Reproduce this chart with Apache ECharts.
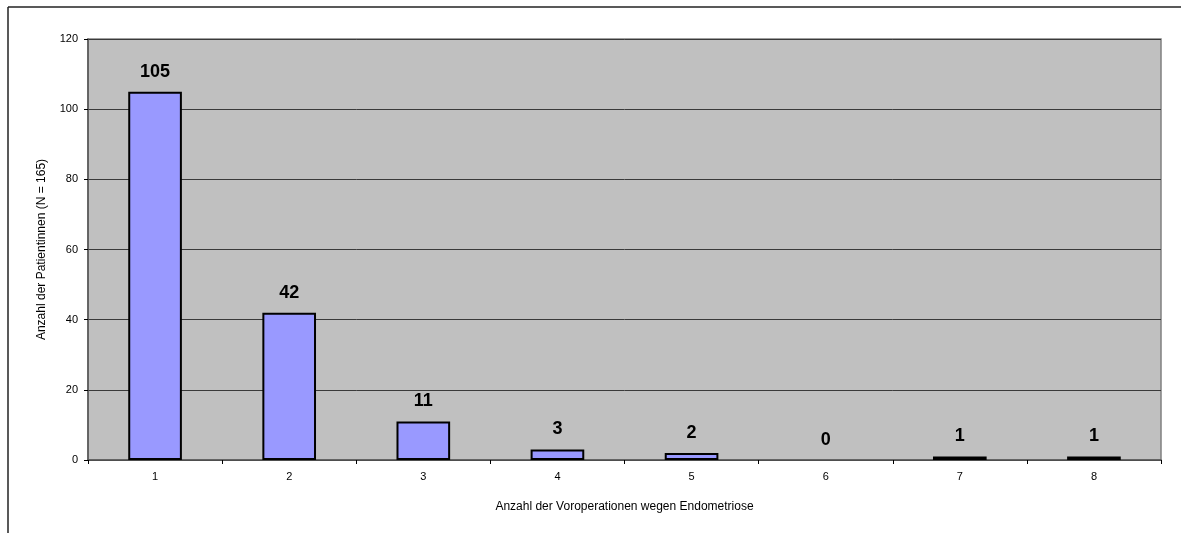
<!DOCTYPE html>
<html>
<head>
<meta charset="utf-8">
<script src="https://cdn.jsdelivr.net/npm/echarts@6/dist/echarts.min.js"></script>
<style>
  html, body { margin: 0; padding: 0; background: #fff; }
  #chart { width: 1181px; height: 533px; }
</style>
</head>
<body>
<div id="chart"></div>
<script>
// Number of prior surgeries for endometriosis vs. number of patients
const categories = ['1', '2', '3', '4', '5', '6', '7', '8'];
const patients = [105, 42, 11, 3, 2, 0, 1, 1];
const yTicks = { min: 0, max: 120, interval: 20 };

const chart = echarts.init(document.getElementById('chart'), null, { renderer: 'canvas' });

const font = '"Liberation Sans", Arial, sans-serif';

// Zero-height bars get no outline so nothing is drawn on the axis
const barData = patients.map(v => v === 0
  ? { value: v, itemStyle: { borderWidth: 0 } }
  : v);

chart.setOption({
  animation: false,
  backgroundColor: '#ffffff',
  graphic: [
    { type: 'line', shape: { x1: 8, y1: 7, x2: 1181, y2: 7 }, style: { stroke: '#222', lineWidth: 1.5 } },
    { type: 'line', shape: { x1: 8, y1: 7, x2: 8, y2: 533 }, style: { stroke: '#222', lineWidth: 1.5 } }
  ],
  grid: {
    left: 88, right: 20, top: 39, bottom: 73,
    show: true,
    backgroundColor: '#C0C0C0',
    borderColor: '#808080',
    borderWidth: 1.5
  },
  xAxis: {
    type: 'category',
    data: categories,
    name: 'Anzahl der Voroperationen wegen Endometriose',
    nameLocation: 'middle',
    nameGap: 41,
    nameTextStyle: { fontFamily: font, fontSize: 12, color: '#000' },
    axisLine: { lineStyle: { color: '#555', width: 1.5 } },
    axisTick: { show: true, length: 4, lineStyle: { color: '#000' } },
    axisLabel: { fontFamily: font, fontSize: 11, color: '#000', margin: 11 }
  },
  yAxis: {
    type: 'value',
    min: yTicks.min, max: yTicks.max, interval: yTicks.interval,
    name: 'Anzahl der Patientinnen (N = 165)',
    nameLocation: 'middle',
    nameGap: 40,
    nameTextStyle: { fontFamily: font, fontSize: 12, color: '#000' },
    axisLine: { show: true, lineStyle: { color: '#555', width: 1.5 } },
    axisTick: { show: true, length: 4, lineStyle: { color: '#000' } },
    axisLabel: { fontFamily: font, fontSize: 11, color: '#000', margin: 10 },
    splitLine: { lineStyle: { color: '#3a3a3a', width: 1 } }
  },
  series: [{
    type: 'bar',
    data: barData,
    barWidth: '40%',
    itemStyle: { color: '#9999FF', borderColor: '#000', borderWidth: 2 },
    label: {
      show: true,
      position: 'top',
      distance: 11,
      fontFamily: font,
      fontSize: 18,
      fontWeight: 'bold',
      color: '#000'
    }
  }]
});
</script>
</body>
</html>
